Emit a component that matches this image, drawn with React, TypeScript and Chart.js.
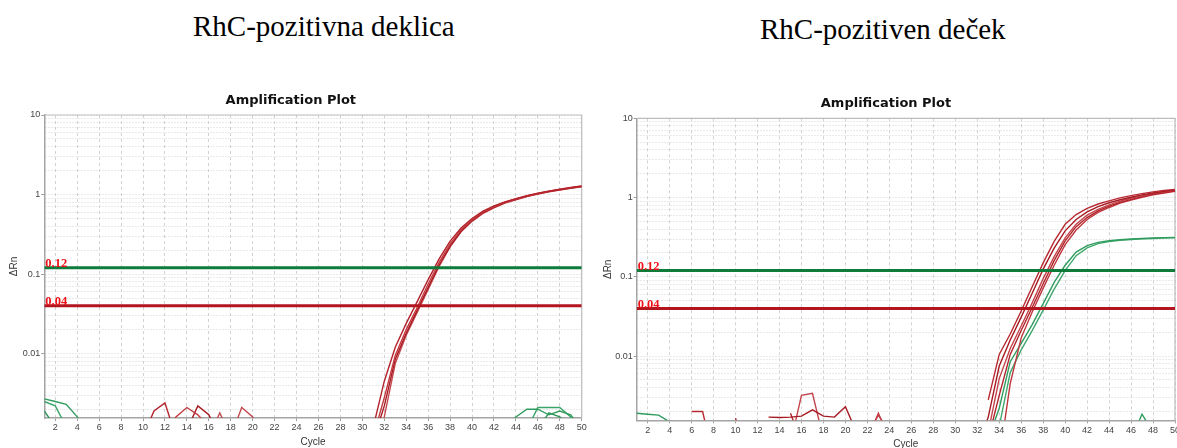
import React, { useEffect, useRef } from 'react';
import { Chart, registerables } from 'chart.js';

Chart.register(...registerables);

type Pt = [number, number | null];

// Axis setup
const X_MIN = 1;
const X_MAX = 50;
const Y_MIN = 0.00155;
const Y_MAX = 10;
const cycleTicks = [2, 4, 6, 8, 10, 12, 14, 16, 18, 20, 22, 24, 26, 28, 30, 32, 34, 36, 38, 40, 42, 44, 46, 48, 50];
const decadeTicks = [0.01, 0.1, 1, 10];
const decadeLabels = ['0.01', '0.1', '1', '10'];
const gridDecades = [0.001, 0.01, 0.1, 1];
const minorSteps = [2, 3, 4, 5, 6, 7, 8, 9];

// Detection thresholds (ΔRn)
const thresholds = [0.12, 0.04];
const thresholdLabels = ['0.12', '0.04'];

const panelTitles = ['RhC-pozitivna deklica', 'RhC-pozitiven deček'];

// Left panel: RhC wells (red) and control wells (green), [cycle, ΔRn]
const leftWellA: Pt[] = [[1, 0.0009], [10, 0.0009], [11, 0.0019], [12, 0.0024], [13, 0.0009], [31, 0.0012], [32, 0.0045], [33, 0.012], [34, 0.024], [35, 0.045], [36, 0.085], [37, 0.155], [38, 0.26], [39, 0.38], [40, 0.5], [41, 0.62], [42, 0.72], [43, 0.81], [44, 0.89], [45, 0.97], [46, 1.04], [47, 1.1], [48, 1.17], [49, 1.23], [50, 1.28]];
const leftWellB: Pt[] = [[12, 0.0009], [13, 0.0016], [14, 0.0021], [15, 0.0017], [16, 0.0012], [31, 0.0009], [32, 0.0028], [33, 0.0095], [34, 0.02], [35, 0.038], [36, 0.075], [37, 0.14], [38, 0.24], [39, 0.36], [40, 0.48], [41, 0.6], [42, 0.7], [43, 0.8], [44, 0.88], [45, 0.96], [46, 1.03], [47, 1.1], [48, 1.16], [49, 1.22], [50, 1.27]];
const leftWellC: Pt[] = [[14, 0.0011], [15, 0.0022], [16, 0.0017], [17, 0.0009], [31, 0.0008], [32, 0.0022], [33, 0.0085], [34, 0.018], [35, 0.035], [36, 0.068], [37, 0.13], [38, 0.225], [39, 0.345], [40, 0.47], [41, 0.59], [42, 0.69], [43, 0.79], [44, 0.87], [45, 0.95], [46, 1.02], [47, 1.09], [48, 1.15], [49, 1.21], [50, 1.26]];
const leftWellD: Pt[] = [[16, 0.0009], [17, 0.0018], [18, 0.0009], [19, 0.0021], [20, 0.0016], [21, 0.0008], [31, 0.0007], [32, 0.0016], [33, 0.0075], [34, 0.017], [35, 0.033], [36, 0.064], [37, 0.125], [38, 0.22], [39, 0.34], [40, 0.46], [41, 0.58], [42, 0.68], [43, 0.78], [44, 0.86], [45, 0.94], [46, 1.01], [47, 1.08], [48, 1.14], [49, 1.2], [50, 1.25]];
const leftCtrlA: Pt[] = [[1, 0.0027], [2, 0.0025], [3, 0.0023], [4, 0.0016], [5, 0.0011], [43, 0.0011], [44, 0.0016], [45, 0.002], [46, 0.002], [47, 0.0017], [48, 0.0019], [49, 0.0017], [50, 0.0011]];
const leftCtrlB: Pt[] = [[1, 0.0025], [2, 0.0022], [3, 0.0012], [45, 0.0011], [46, 0.0021], [47, 0.0021], [48, 0.0021], [49, 0.0016], [50, 0.0009]];
const leftCtrlC: Pt[] = [[1, 0.0019], [2, 0.0012], [46, 0.0011], [47, 0.0018], [48, 0.0016], [49, 0.0012]];

// Right panel
const rightWellA: Pt[] = [[6, 0.002], [7, 0.002], [8, 0.0005], [32, null], [33, 0.0028], [34, 0.0105], [35, 0.019], [36, 0.037], [37, 0.075], [38, 0.15], [39, 0.28], [40, 0.46], [41, 0.61], [42, 0.73], [43, 0.83], [44, 0.91], [45, 0.99], [46, 1.06], [47, 1.12], [48, 1.18], [49, 1.23], [50, 1.27]];
const rightWellB: Pt[] = [[13, 0.0017], [14, 0.00168], [15, 0.0017], [16, 0.00175], [17, 0.0021], [18, 0.00175], [19, 0.0017], [20, 0.0023], [21, 0.0011], [32, 0.0007], [33, 0.0017], [34, 0.0075], [35, 0.016], [36, 0.031], [37, 0.062], [38, 0.125], [39, 0.23], [40, 0.38], [41, 0.53], [42, 0.66], [43, 0.77], [44, 0.86], [45, 0.94], [46, 1.01], [47, 1.08], [48, 1.14], [49, 1.2], [50, 1.25]];
const rightWellC: Pt[] = [[15, 0.0008], [16, 0.0032], [17, 0.0034], [18, 0.0009], [22, 0.001], [23, 0.0018], [24, 0.0011], [33, 0.0011], [34, 0.0052], [35, 0.0125], [36, 0.024], [37, 0.047], [38, 0.095], [39, 0.18], [40, 0.31], [41, 0.46], [42, 0.6], [43, 0.71], [44, 0.81], [45, 0.9], [46, 0.98], [47, 1.05], [48, 1.12], [49, 1.18], [50, 1.24]];
const rightWellD: Pt[] = [[10, 0.00165], [11, 0.0005], [12, null], [15, 0.0019], [16, 0.0008], [33, 0.0009], [34, 0.0032], [35, 0.0105], [36, 0.021], [37, 0.041], [38, 0.082], [39, 0.16], [40, 0.285], [41, 0.43], [42, 0.56], [43, 0.68], [44, 0.78], [45, 0.87], [46, 0.95], [47, 1.03], [48, 1.1], [49, 1.16], [50, 1.22]];
const rightWellE: Pt[] = [[22, 0.0009], [23, 0.0019], [24, 0.0009], [34, 0.0005], [35, 0.0045], [36, 0.017], [37, 0.036], [38, 0.072], [39, 0.14], [40, 0.255], [41, 0.39], [42, 0.53], [43, 0.65], [44, 0.75], [45, 0.85], [46, 0.93], [47, 1.01], [48, 1.08], [49, 1.14], [50, 1.2]];
const rightCtrlA: Pt[] = [[33, 0.0009], [34, 0.0022], [35, 0.0085], [36, 0.0145], [37, 0.025], [38, 0.046], [39, 0.085], [40, 0.14], [41, 0.205], [42, 0.248], [43, 0.272], [44, 0.285], [45, 0.294], [46, 0.3], [47, 0.305], [48, 0.309], [49, 0.312], [50, 0.315]];
const rightCtrlB: Pt[] = [[33, 0.0007], [34, 0.0013], [35, 0.0062], [36, 0.012], [37, 0.021], [38, 0.038], [39, 0.07], [40, 0.12], [41, 0.185], [42, 0.232], [43, 0.262], [44, 0.278], [45, 0.289], [46, 0.296], [47, 0.301], [48, 0.305], [49, 0.308], [50, 0.311]];
const rightCtrlC: Pt[] = [[1, 0.0019], [2, 0.00185], [3, 0.0018], [4, 0.00148], [5, 0.0009], [46, 0.0009], [47, 0.00185], [48, 0.0011]];

const leftWells = [leftWellA, leftWellB, leftWellC, leftWellD, leftCtrlA, leftCtrlB, leftCtrlC];
const rightWells = [rightWellA, rightWellB, rightWellC, rightWellD, rightWellE, rightCtrlA, rightCtrlB, rightCtrlC];

// Styling
const leftWellColors = ['#b3232b', '#c2393f', '#a81a22', '#c44950', '#2f9c5e', '#3aa46a', '#2a9558'];
const rightWellColors = ['#b82a32', '#a61a22', '#c4434a', '#b0242c', '#c0363d', '#2f9c5e', '#40a86e', '#2f9c5e'];
const thresholdColors = ['#0e7b3a', '#b3151f'];

const SANS = '"Liberation Sans", Arial, sans-serif';
const SERIF = '"Liberation Serif", "Times New Roman", serif';

type Layout = {
  left: number;
  top: number;
  width: number;
  height: number;
  yAxisWidth: number;
  xAxisHeight: number;
  padRight: number;
  titlePadTop: number;
  titlePadBottom: number;
  yTitlePad: number;
};

const leftLayout: Layout = { left: 0, top: 80, width: 588, height: 368, yAxisWidth: 44.3, xAxisHeight: 30, padRight: 6.3, titlePadTop: 13.2, titlePadBottom: 6.2, yTitlePad: 8 };
const rightLayout: Layout = { left: 597, top: 82, width: 580, height: 368, yAxisWidth: 39.7, xAxisHeight: 29.7, padRight: 2, titlePadTop: 14.2, titlePadBottom: 6.5, yTitlePad: 5.5 };

const yGridValues = gridDecades
  .flatMap((d) => [1, ...minorSteps].map((m) => +(d * m).toPrecision(3)))
  .concat([Y_MAX])
  .filter((v) => v >= Y_MIN && v <= Y_MAX);

const decadeIndex = (v: number) => decadeTicks.findIndex((d) => Math.abs(d - v) / d < 1e-6);

function AmpPlot({ wells, colors, layout }: { wells: Pt[][]; colors: string[]; layout: Layout }) {
  const ref = useRef<HTMLCanvasElement | null>(null);

  useEffect(() => {
    const canvas = ref.current;
    if (!canvas) return;

    const datasets: any[] = [];
    thresholds.forEach((t, i) => {
      datasets.push({
        label: thresholdLabels[i],
        data: [{ x: X_MIN, y: t }, { x: X_MAX, y: t }],
        borderColor: thresholdColors[i],
        borderWidth: 3,
        pointRadius: 0,
      });
    });
    wells.forEach((w, i) => {
      datasets.push({
        label: 'well ' + (i + 1),
        data: w.map(([x, y]) => ({ x, y })),
        borderColor: colors[i],
        borderWidth: 1.4,
        pointRadius: 0,
        spanGaps: false,
        tension: 0,
      });
    });

    const framePlugin = {
      id: 'plotFrame',
      beforeDatasetsDraw(chart: any) {
        const { ctx, chartArea: a } = chart;
        ctx.save();
        ctx.strokeStyle = '#bdbdbd';
        ctx.lineWidth = 1.2;
        ctx.beginPath();
        ctx.moveTo(a.left, a.top);
        ctx.lineTo(a.right, a.top);
        ctx.lineTo(a.right, a.bottom);
        ctx.stroke();
        ctx.restore();
      },
    };

    const thresholdLabelPlugin = {
      id: 'thresholdLabels',
      afterDatasetsDraw(chart: any) {
        const { ctx, chartArea: a, scales } = chart;
        ctx.save();
        ctx.font = 'bold 12.5px ' + SERIF;
        ctx.fillStyle = '#ee1118';
        ctx.textAlign = 'left';
        ctx.textBaseline = 'alphabetic';
        thresholds.forEach((t, i) => {
          const y = scales.y.getPixelForValue(t);
          ctx.fillText(thresholdLabels[i], a.left + 1, y - 0.5);
        });
        ctx.restore();
      },
    };

    const chart = new Chart(canvas, {
      type: 'line',
      data: { datasets },
      options: {
        animation: false,
        responsive: false,
        devicePixelRatio: 1,
        layout: { padding: { left: 0, right: layout.padRight, top: 0, bottom: 0 } },
        plugins: {
          legend: { display: false },
          tooltip: { enabled: false },
          title: {
            display: true,
            text: 'Amplification Plot',
            color: '#111',
            font: { family: '"DejaVu Sans", Verdana, sans-serif', size: 13, weight: 'bold', lineHeight: 1.2 },
            padding: { top: layout.titlePadTop, bottom: layout.titlePadBottom },
          },
        },
        scales: {
          x: {
            type: 'linear',
            min: X_MIN,
            max: X_MAX,
            afterBuildTicks: (s: any) => {
              s.ticks = cycleTicks.map((v) => ({ value: v }));
            },
            afterFit: (s: any) => {
              s.height = layout.xAxisHeight;
              s.paddingLeft = 0;
              s.paddingRight = 0;
            },
            ticks: {
              autoSkip: false,
              maxRotation: 0,
              padding: 1.5,
              color: '#444',
              font: { family: SANS, size: 9 },
            },
            grid: { color: '#d2d2d2', lineWidth: 1, tickLength: 3, tickColor: '#9a9a9a' },
            border: { display: true, color: '#a4a4a4', width: 1.5, dash: [3, 3] },
            title: {
              display: true,
              text: 'Cycle',
              color: '#333',
              font: { family: SANS, size: 10, lineHeight: 1.2 },
              padding: { top: 0, bottom: 0 },
            },
          },
          y: {
            type: 'logarithmic',
            min: Y_MIN,
            max: Y_MAX,
            afterBuildTicks: (s: any) => {
              s.ticks = yGridValues.map((v) => ({ value: v }));
            },
            afterFit: (s: any) => {
              s.width = layout.yAxisWidth;
              s.paddingTop = 0;
              s.paddingBottom = 0;
            },
            ticks: {
              autoSkip: false,
              padding: 1,
              color: '#444',
              font: { family: SANS, size: 9 },
              callback: (v: any) => {
                const i = decadeIndex(Number(v));
                return i >= 0 ? decadeLabels[i] : '';
              },
            },
            grid: {
              color: '#d4d4d4',
              lineWidth: 1,
              tickLength: 3,
              tickColor: (c: any) => (c.tick && decadeIndex(c.tick.value) >= 0 ? '#9a9a9a' : 'rgba(0,0,0,0)'),
            },
            border: { display: true, color: '#a4a4a4', width: 1.5, dash: [1, 2] },
            title: {
              display: true,
              text: 'ΔRn',
              color: '#333',
              font: { family: SANS, size: 10, lineHeight: 1.2 },
              padding: { top: layout.yTitlePad, bottom: 0 },
            },
          },
        },
      } as any,
      plugins: [framePlugin, thresholdLabelPlugin],
    });

    return () => chart.destroy();
  }, [wells, colors, layout]);

  return (
    <canvas
      ref={ref}
      width={layout.width}
      height={layout.height}
      style={{ position: 'absolute', left: layout.left, top: layout.top, width: layout.width, height: layout.height }}
    />
  );
}

const headingStyle: React.CSSProperties = {
  position: 'absolute',
  fontFamily: SERIF,
  fontSize: 29,
  lineHeight: '29px',
  color: '#000',
  whiteSpace: 'nowrap',
};

export default function App() {
  return (
    <div style={{ position: 'absolute', left: 0, top: 0, width: 1177, height: 448, overflow: 'hidden', background: '#fff' }}>
      <div style={{ ...headingStyle, left: 193, top: 11.7 }}>{panelTitles[0]}</div>
      <div style={{ ...headingStyle, left: 760, top: 14.7 }}>{panelTitles[1]}</div>
      <AmpPlot wells={leftWells} colors={leftWellColors} layout={leftLayout} />
      <AmpPlot wells={rightWells} colors={rightWellColors} layout={rightLayout} />
    </div>
  );
}
